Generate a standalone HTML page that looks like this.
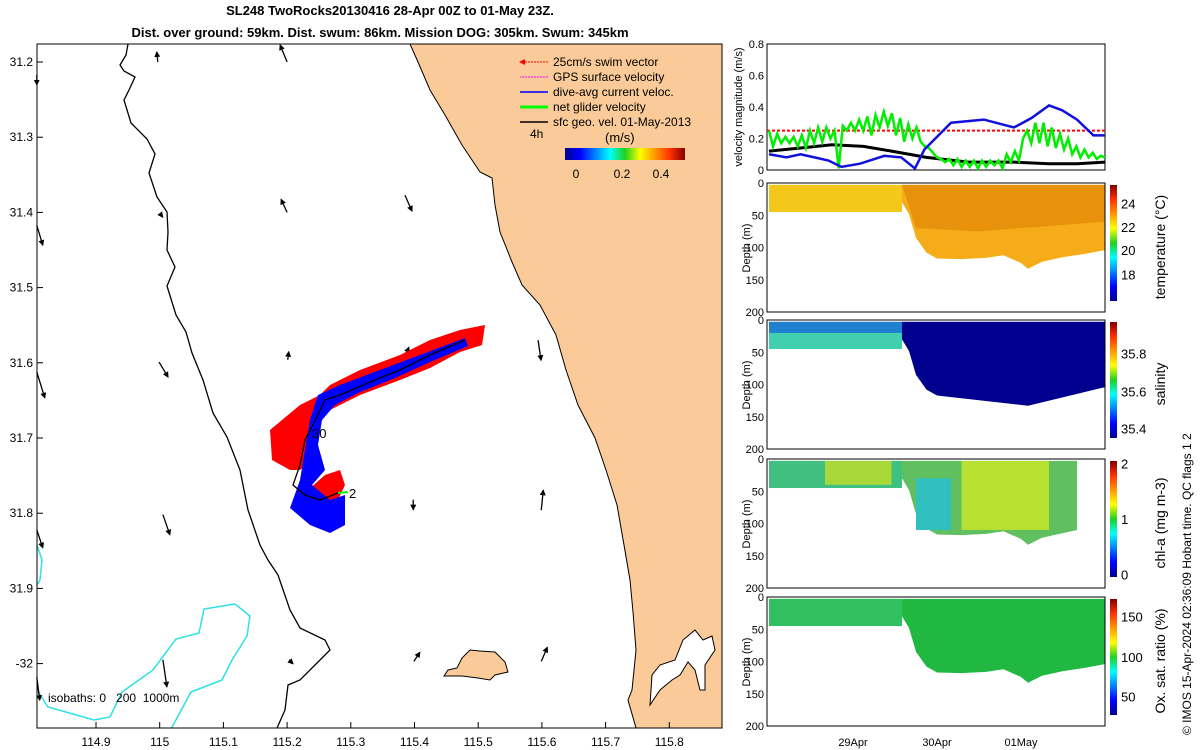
<!DOCTYPE html>
<html><head><meta charset="utf-8"><style>
body{margin:0;background:#fff;}
svg{display:block;font-family:"Liberation Sans","DejaVu Sans",sans-serif;}
</style></head><body>
<svg id="fig" width="1200" height="750" viewBox="0 0 1200 750">
<defs>
<linearGradient id="jet" x1="0" x2="1" y1="0" y2="0">
<stop offset="0" stop-color="#00008f"/><stop offset="0.125" stop-color="#0000ff"/><stop offset="0.375" stop-color="#00ffff"/><stop offset="0.5" stop-color="#20d020"/><stop offset="0.625" stop-color="#ffff00"/><stop offset="0.875" stop-color="#ff3000"/><stop offset="1" stop-color="#800000"/>
</linearGradient>
<linearGradient id="jetv" x1="0" x2="0" y1="1" y2="0">
<stop offset="0" stop-color="#00008f"/><stop offset="0.125" stop-color="#0000ff"/><stop offset="0.375" stop-color="#00ffff"/><stop offset="0.5" stop-color="#20d020"/><stop offset="0.625" stop-color="#ffff00"/><stop offset="0.875" stop-color="#ff3000"/><stop offset="1" stop-color="#800000"/>
</linearGradient>
<clipPath id="mapclip"><rect x="37" y="44" width="685" height="684"/></clipPath>
<marker id="ah" markerWidth="6" markerHeight="6" refX="5" refY="3" orient="auto" markerUnits="userSpaceOnUse"><path d="M0,0 L6,3 L0,6 z" fill="#000"/></marker>
<marker id="ahr" markerWidth="6" markerHeight="6" refX="5" refY="3" orient="auto" markerUnits="userSpaceOnUse"><path d="M0,0 L6,3 L0,6 z" fill="#f00"/></marker>
</defs>

<g font-weight="bold" font-size="13" text-anchor="middle">
<text x="390" y="15">SL248 TwoRocks20130416 28-Apr 00Z to 01-May 23Z.</text>
<text x="380" y="37">Dist. over ground: 59km. Dist. swum: 86km. Mission DOG: 305km. Swum: 345km</text>
</g>

<g id="map">
<g clip-path="url(#mapclip)">
<path fill="#facb98" stroke="#000" stroke-width="1" d="M410,44 L418,62 L430,90 L445,115 L462,145 L480,172 L492,178 L495,205 L500,232 L512,262 L522,285 L540,305 L556,335 L566,370 L578,405 L595,438 L606,470 L617,505 L624,545 L630,580 L633,612 L636,650 L632,690 L628,700 L636,728 L722,728 L722,44 Z"/>
<path fill="#fff" stroke="#000" stroke-width="1" d="M650,705 L652,675 L660,665 L675,660 L683,640 L695,630 L703,640 L712,636 L715,650 L705,665 L705,690 L700,690 L695,670 L688,662 L680,675 L672,680 L660,690 Z"/>
<path fill="#facb98" stroke="#000" stroke-width="1" d="M444,676 L448,670 L457,668 L462,658 L470,650 L480,651 L495,652 L505,662 L508,672 L495,675 L490,680 L478,678 L462,676 Z"/>
<path fill="none" stroke="#000" stroke-width="1.3" d="M128,44 L126,55 L120,65 L124,71 L135,77 L129,90 L124,100 L131,123 L147,139 L155,154 L149,173 L157,197 L167,212 L168,232 L167,250 L175,267 L167,286 L176,315 L186,332 L192,353 L203,380 L213,413 L227,437 L240,470 L248,510 L260,545 L268,560 L278,575 L290,610 L300,628 L325,640 L330,650 L320,660 L300,680 L288,685 L285,710 L277,728"/>
<path fill="none" stroke="#2ee0e8" stroke-width="1.5" d="M37,545 L42,560 L40,580 L37,585 M37,690 L48,707 L94,720 L110,717 L122,692 L153,670 L176,639 L199,633 L204,609 L235,604 L250,616 L247,636 L232,660 L222,680 L191,692 L171,729"/>
</g>
<g id="arrows" stroke="#000" stroke-width="1.3" marker-end="url(#ah)"></g>
<g>
<path fill="#f00" d="M270,430 L300,405 L320,395 L330,385 L360,370 L400,355 L430,340 L460,330 L485,325 L482,345 L460,352 L430,368 L400,380 L360,395 L330,410 L315,425 L312,460 L300,470 L290,470 L272,460 Z"/>
<path fill="#f00" d="M308,490 L325,475 L340,470 L345,485 L338,500 L320,502 Z"/>
<path fill="#00f" d="M318,395 L340,385 L380,370 L420,355 L465,338 L468,346 L430,362 L395,378 L360,392 L335,405 L322,420 L318,445 L325,470 L312,485 L330,500 L345,495 L345,525 L330,533 L310,525 L290,508 L300,480 L305,450 L310,420 Z"/>
<path fill="none" stroke="#000" stroke-width="1.3" d="M465,340 L430,355 L400,370 L370,382 L340,395 L325,400 L318,415 L305,440 L300,465 L293,485 L305,495 L320,500 L338,493"/>
<line x1="338" y1="493" x2="348" y2="492" stroke="#0f0" stroke-width="2"/>
<text x="312" y="438" font-size="13">30</text>
<text x="349" y="498" font-size="13">2</text>
</g>
<g>
<rect x="37" y="44" width="685" height="684" fill="none" stroke="#000" stroke-width="1"/>
<g id="maptickx" font-size="12" text-anchor="middle"></g>
<g id="mapticky" font-size="12" text-anchor="end"></g>
</g>
<g font-size="12">
<line x1="548" y1="62" x2="520" y2="62" stroke="#f00" stroke-dasharray="2,1" marker-end="url(#ahr)"/><text x="553" y="66">25cm/s swim vector</text>
<line x1="548" y1="77" x2="520" y2="77" stroke="#f0f" stroke-dasharray="2,1"/><text x="553" y="81">GPS surface velocity</text>
<line x1="548" y1="92" x2="520" y2="92" stroke="#00f" stroke-width="1.5"/><text x="553" y="96">dive-avg current veloc.</text>
<line x1="548" y1="107" x2="520" y2="107" stroke="#0f0" stroke-width="3"/><text x="553" y="111">net glider velocity</text>
<line x1="548" y1="122" x2="520" y2="122" stroke="#000" stroke-width="1.5"/><text x="553" y="126">sfc geo. vel. 01-May-2013</text>
<text x="530" y="138">4h</text>
<text x="605" y="142" font-size="13">(m/s)</text>
<rect x="565" y="148" width="120" height="12" fill="url(#jet)"/>
<text x="576" y="178" text-anchor="middle">0</text><text x="622" y="178" text-anchor="middle">0.2</text><text x="661" y="178" text-anchor="middle">0.4</text>
<text x="48" y="702" xml:space="preserve">isobaths: 0   200  1000m</text>
</g>
</g>

<g id="vel">
<rect x="767" y="44" width="338" height="126" fill="none" stroke="#000"/>
<g id="velticks" font-size="11" text-anchor="end"></g>
<text transform="translate(742,107) rotate(-90)" font-size="11" text-anchor="middle">velocity magnitude (m/s)</text>
<line id="swimref" stroke="#f00" stroke-width="2" stroke-dasharray="3,2"/>
<polyline id="blackline" fill="none" stroke="#000" stroke-width="3"/>
<polyline id="greenline" fill="none" stroke="#0e0" stroke-width="2.5"/>
<polyline id="blueline" fill="none" stroke="#11d" stroke-width="2.5"/>
</g>

<g id="sections"></g>
<g id="dateticks" font-size="11" text-anchor="middle"></g>
<text transform="translate(1191,735) rotate(-90)" font-size="12">© IMOS 15-Apr-2024 02:36:09 Hobart time. QC flags 1  2</text>
</svg>
<script>
const NS="http://www.w3.org/2000/svg";
function mk(tag,attrs,parent){const e=document.createElementNS(NS,tag);for(const k in attrs)e.setAttribute(k,attrs[k]);parent.appendChild(e);return e;}
// map ticks
const lonTicks=[114.9,115,115.1,115.2,115.3,115.4,115.5,115.6,115.7,115.8];
const latTicks=[31.2,31.3,31.4,31.5,31.6,31.7,31.8,31.9,32];
const latLabels=["31.2","31.3","31.4","31.5","31.6","31.7","31.8","31.9","-32"];
// surface current arrows: tail lon/lat, u,v (v positive north)
const arrowLon=[114.807,114.997,115.2,115.0,114.807,115.2,115.385,114.999,114.807,115.201,115.388,115.594,115.005,115.398,115.599,114.807,115.005,115.203,115.399,115.599,114.807];
const arrowLat=[31.217,31.2,31.2,31.401,31.417,31.4,31.377,31.599,31.612,31.596,31.586,31.57,31.802,31.782,31.796,31.822,31.995,31.995,31.997,31.997,32.018];
const arrowU=[0,-0.04,-0.28,0.12,0.24,-0.24,0.28,0.36,0.32,0.04,0.08,0.12,0.28,0,0.08,0.24,0.16,0.16,0.24,0.24,0.12];
const arrowV=[-0.4,0.4,0.68,-0.16,-0.8,0.52,-0.64,-0.6,-1.04,0.32,0.2,-0.8,-0.8,-0.4,0.8,-0.72,-1.08,-0.16,0.36,0.56,-0.92];
const lonX=l=>96+(l-114.9)*637, latY=l=>62+(l-31.2)*752;
const gx=document.getElementById('maptickx'), gy=document.getElementById('mapticky');
lonTicks.forEach(l=>{const x=lonX(l);
 const t=mk('text',{x:x,y:746},gx);t.textContent=String(l);
 
 
 mk('line',{x1:x,y1:728,x2:x,y2:722,stroke:'#000'},gx);});
latTicks.forEach((l,i)=>{const y=latY(l);
 const t=mk('text',{x:33,y:y+4},gy);t.textContent=latLabels[i];
 
 
 mk('line',{x1:37,y1:y,x2:43,y2:y,stroke:'#000'},gy);});
const ga=document.getElementById('arrows');
arrowLon.forEach((lo,i)=>{const x=lonX(lo),y=latY(arrowLat[i]);
 const a=mk('line',{x1:x,y1:y,x2:x+arrowU[i]*25,y2:y-arrowV[i]*25},ga);
 
 });

// velocity panel
const velTickVals=[0,0.2,0.4,0.6,0.8];
const blueT=[0,5,9,13,17,20.7,26,33,37.8,41.7,44.4,52,61.4,70,75,80,83.7,88,92.7,96];
const blueV=[0.1,0.08,0.1,0.08,0.06,0.02,0.04,0.09,0.08,0.01,0.13,0.3,0.32,0.27,0.33,0.41,0.38,0.32,0.22,0.22];
const blackT=[0,9,18,27,35,45,57,70,80,88,96];
const blackV=[0.12,0.14,0.16,0.15,0.12,0.08,0.05,0.05,0.04,0.04,0.05];
const greenV=[0.25,0.15,0.23,0.17,0.21,0.17,0.21,0.15,0.22,0.14,0.25,0.17,0.27,0.18,0.27,0.2,0.25,0.01,0.28,0.25,0.3,0.25,0.32,0.25,0.34,0.22,0.35,0.27,0.37,0.28,0.36,0.22,0.33,0.18,0.29,0.2,0.27,0.18,0.15,0.14,0.11,0.08,0.07,0.05,0.07,0.03,0.07,0.02,0.06,0.02,0.06,0.01,0.06,0.02,0.06,0.03,0.06,0.01,0.1,0.05,0.12,0.06,0.2,0.25,0.17,0.3,0.17,0.3,0.15,0.27,0.14,0.23,0.13,0.2,0.1,0.15,0.08,0.13,0.08,0.11,0.07,0.09,0.08];
const swimSpeed=0.25;
const tX=h=>769+h*3.5, vY=v=>170-v*157.5;
const vt=document.getElementById('velticks');
velTickVals.forEach(v=>{const t=mk('text',{x:764,y:vY(v)+4},vt);t.textContent=String(v);
 
 });
const sr=document.getElementById('swimref');
sr.setAttribute('x1',767);sr.setAttribute('x2',1105);sr.setAttribute('y1',vY(swimSpeed));sr.setAttribute('y2',vY(swimSpeed));
document.getElementById('blueline').setAttribute('points',blueT.map((t,i)=>tX(t)+','+vY(blueV[i])).join(' '));
document.getElementById('blackline').setAttribute('points',blackT.map((t,i)=>tX(t)+','+vY(blackV[i])).join(' '));
const gstep=96/(greenV.length-1);
document.getElementById('greenline').setAttribute('points',greenV.map((v,i)=>tX(i*gstep)+','+vY(v)).join(' '));

// sections
const bottomT=[0,10,15,20,25,30,35,38,40,42,45,48,55,62,67,72,74,78,84,90,96];
const bottomD=[40,38,30,35,42,40,35,30,48,85,108,117,118,116,112,124,133,122,115,110,104];
const panels=[
 {name:'temperature',top:183,label:'temperature (°C)',ticks:['24','22','20','18'],tickPos:[0.16,0.36,0.56,0.77],cbTop:185,a:'#f3c81a',b:'#e8920c',c:'#f5ac18',end:96},
 {name:'salinity',top:320,label:'salinity',ticks:['35.8','35.6','35.4'],tickPos:[0.27,0.6,0.92],cbTop:322,a:'#40d0b0',b:'#00008f',c:'#00008f',end:96},
 {name:'chl-a',top:459,label:'chl-a (mg m-3)',ticks:['2','1','0'],tickPos:[0.02,0.5,0.98],cbTop:461,a:'#40c080',b:'#b8e030',c:'#60c060',end:88},
 {name:'oxygen',top:597,label:'Ox. sat. ratio (%)',ticks:['150','100','50'],tickPos:[0.15,0.5,0.84],cbTop:599,a:'#30c060',b:'#20c830',c:'#20b840',end:96}
];
const depthTicks=[0,50,100,150,200];
const sec=document.getElementById('sections');
panels.forEach(p=>{
 const g=mk('g',{},sec);
 
 
 const H=129, dY=d=>p.top+d*H/200;
 const shp=[tX(0)+','+dY(3),tX(p.end)+','+dY(3)];
 const endD=bottomD[bottomT.findIndex(t=>t>=p.end)];
 shp.push(tX(p.end)+','+dY(endD));
 for(let i=bottomT.length-1;i>=0;i--){if(bottomT[i]<p.end)shp.push(tX(bottomT[i])+','+dY(bottomD[i]));}
 mk('polygon',{points:shp.join(' '),fill:p.c},g);
 mk('rect',{x:tX(0),y:dY(3),width:tX(38)-tX(0),height:dY(45)-dY(3),fill:p.a},g);
 if(p.name==='temperature'){mk('polygon',{points:[tX(38),dY(3),tX(p.end),dY(3),tX(p.end),dY(60),tX(60),dY(75),tX(42),dY(70)].join(' '),fill:p.b},g);}
 else if(p.name==='salinity'){mk('rect',{x:tX(0),y:dY(3),width:tX(38)-tX(0),height:dY(20)-dY(3),fill:'#2080d0'},g);
   mk('polygon',{points:[tX(38),dY(3),tX(p.end),dY(3),tX(p.end),dY(104),tX(74),dY(133),tX(48),dY(117),tX(40),dY(48)].join(' '),fill:p.b},g);}
 else if(p.name==='chl-a'){mk('rect',{x:tX(55),y:dY(3),width:tX(80)-tX(55),height:dY(110)-dY(3),fill:p.b},g);
   mk('rect',{x:tX(16),y:dY(3),width:tX(35)-tX(16),height:dY(40)-dY(3),fill:'#a8d838'},g);
   mk('rect',{x:tX(42),y:dY(30),width:tX(52)-tX(42),height:dY(110)-dY(30),fill:'#30c0c0'},g);}
 mk('rect',{x:767,y:p.top,width:338,height:H,fill:'none',stroke:'#000'},g);
 depthTicks.forEach(d=>{const t=mk('text',{x:764,y:dY(d)+4,'font-size':11,'text-anchor':'end'},g);t.textContent=String(d);
  
  });
 const yl=mk('text',{transform:`translate(750,${p.top+65}) rotate(-90)`,'font-size':11,'text-anchor':'middle'},g);yl.textContent='Depth (m)';
 
 
 const cb=mk('rect',{x:1110,y:p.cbTop,width:7,height:116,fill:'url(#jetv)'},g);
 
 
 p.ticks.forEach((tk,i)=>{const t=mk('text',{x:1121,y:p.cbTop+p.tickPos[i]*116+5,'font-size':13},g);t.textContent=tk;});
 const cl=mk('text',{transform:`translate(1165,${p.top+64}) rotate(-90)`,'font-size':14,'text-anchor':'middle'},g);cl.textContent=p.label;
 
 
});
const dateLabels=['29Apr','30Apr','01May'];
const dateHours=[24,48,72];
const dt=document.getElementById('dateticks');
dateLabels.forEach((d,i)=>{const t=mk('text',{x:tX(dateHours[i]),y:746},dt);t.textContent=d;
 
 });
</script>
</body></html>
